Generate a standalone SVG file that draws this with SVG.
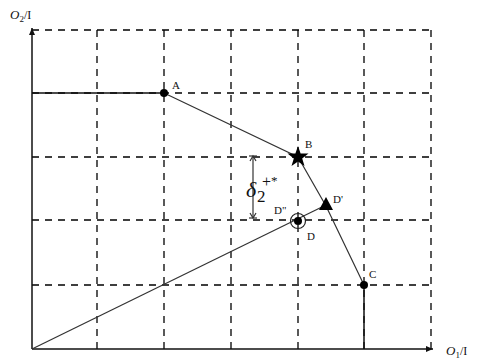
<svg xmlns="http://www.w3.org/2000/svg" width="486" height="360" viewBox="0 0 486 360">
<defs>
<style>
.grid{stroke:#000;stroke-width:1.3;stroke-dasharray:7 6;fill:none}
.ax{stroke:#111;stroke-width:1.5;fill:none}
.ln{stroke:#333;stroke-width:1.2;fill:none}
.lbl{font-family:"Liberation Serif",serif;font-size:11px;fill:#111}
.math{font-family:"Liberation Serif",serif;font-style:italic;fill:#111}
</style>
<marker id="arr" markerWidth="8" markerHeight="8" refX="7" refY="4" orient="auto" markerUnits="userSpaceOnUse">
<path d="M0,1 L7,4 L0,7 Z" fill="#111"/>
</marker>
</defs>
<rect width="486" height="360" fill="#fff"/>
<g id="grid">
<line class="grid" x1="32" y1="30" x2="431" y2="30"/>
<line class="grid" x1="32" y1="93" x2="431" y2="93"/>
<line class="grid" x1="32" y1="157" x2="431" y2="157"/>
<line class="grid" x1="32" y1="220" x2="431" y2="220"/>
<line class="grid" x1="32" y1="285" x2="431" y2="285"/>
<line class="grid" x1="97" y1="30" x2="97" y2="349"/>
<line class="grid" x1="164" y1="30" x2="164" y2="349"/>
<line class="grid" x1="231" y1="30" x2="231" y2="349"/>
<line class="grid" x1="298" y1="30" x2="298" y2="349"/>
<line class="grid" x1="364" y1="30" x2="364" y2="349"/>
<line class="grid" x1="431" y1="30" x2="431" y2="349"/>
</g>
<g id="axes">
<line class="ax" x1="32" y1="349" x2="32" y2="28" marker-end="url(#arr)"/>
<line class="ax" x1="32" y1="349" x2="433" y2="349" marker-end="url(#arr)"/>
<text class="math" x="10" y="19" style="font-size:13px">O<tspan dy="3" style="font-size:9px;font-style:normal">2</tspan><tspan dy="-3" style="font-size:12px;font-style:normal">/I</tspan></text>
<text class="math" x="446" y="355" style="font-size:13px">O<tspan dy="3" style="font-size:9px;font-style:normal">1</tspan><tspan dy="-3" style="font-size:12px;font-style:normal">/I</tspan></text>
</g>
<g id="connectors">
<polyline class="ax" points="32,93 164,93"/>
<polyline class="ln" points="164,93 298,157 326,206 364,285"/>
<line class="ax" x1="364" y1="285" x2="364" y2="349"/>
<line class="ln" x1="32" y1="349" x2="326" y2="205"/>
<line class="ln" x1="253" y1="156" x2="253" y2="218"/>
<line class="ln" x1="249" y1="156" x2="257" y2="156"/>
<line class="ln" x1="249" y1="218" x2="257" y2="218"/>
<path d="M250,161 L253,156 L256,161" class="ln"/>
<path d="M250,213 L253,218 L256,213" class="ln"/>
</g>
<g id="A"><circle cx="164" cy="93" r="4" fill="#000"/><text class="lbl" x="172" y="89">A</text></g>
<g id="B"><polygon points="298,146 300.6,153.4 308.5,153.6 302.2,158.4 304.5,166 298,161.5 291.5,166 293.8,158.4 287.5,153.6 295.4,153.4" fill="#000"/><text class="lbl" x="305" y="148">B</text></g>
<g id="Dp"><polygon points="326,197 333,210 319,210" fill="#000"/><text class="lbl" x="333" y="203">D'</text></g>
<g id="D"><circle cx="298" cy="221" r="7.5" fill="none" stroke="#222" stroke-width="1.2"/><circle cx="298" cy="221" r="4" fill="#000"/><text class="lbl" x="307" y="240">D</text><text class="lbl" x="274" y="214">D"</text></g>
<g id="C"><circle cx="364" cy="285" r="4" fill="#000"/><text class="lbl" x="369" y="278">C</text></g>
<g id="delta"><text class="math" x="246" y="197" style="font-size:22px">δ</text><text class="lbl" x="257" y="202" style="font-size:17px">2</text><text class="lbl" x="262" y="187" style="font-size:16px">+<tspan dy="-2" style="font-size:13px">*</tspan></text></g>
</svg>
